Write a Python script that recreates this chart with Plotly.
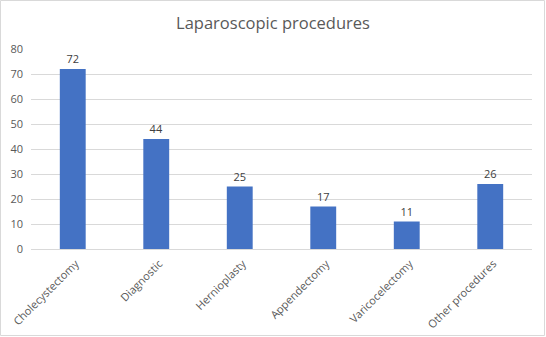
import plotly.graph_objects as go

categories = ["Cholecystectomy", "Diagnostic", "Hernioplasty", "Appendectomy", "Varicocelectomy", "Other procedures"]
values = [72, 44, 25, 17, 11, 26]
y_ticks = [0, 10, 20, 30, 40, 50, 60, 70, 80]
title_text = "Laparoscopic procedures"

W, H = 546, 337
ml, mr, mt, mb = 31, 14, 49, 88
pw, ph = W - ml - mr, H - mt - mb

fig = go.Figure(go.Bar(
    x=categories, y=values,
    marker=dict(color="#4472C4", line=dict(width=0)),
    text=[str(v) for v in values], textposition="outside",
    textfont=dict(color="#404040", size=11, family="Open Sans"),
    cliponaxis=False,
))

fig.update_layout(
    width=W, height=H,
    margin=dict(l=ml, r=mr, t=mt, b=mb, autoexpand=False),
    paper_bgcolor="white", plot_bgcolor="white",
    bargap=0.69,
    showlegend=False,
    title=dict(text=title_text, x=0.5, xanchor="center", y=1 - 23 / H, yanchor="middle",
               font=dict(size=16.5, color="#595959", family="Open Sans")),
    font=dict(family="Open Sans", color="#595959", size=11),
    xaxis=dict(tickangle=-45, showgrid=False, showline=True, linecolor="#D9D9D9", linewidth=1,
               ticks="", tickfont=dict(size=11, color="#595959"), automargin=False,
               ticklabelstandoff=3, ticklabelshift=3),
    yaxis=dict(range=[0, 80], tickvals=y_ticks, showgrid=True, gridcolor="#D9D9D9", gridwidth=1,
               zeroline=False, showline=False, ticks="", tickfont=dict(size=11, color="#595959"),
               ticklabelstandoff=7, automargin=False),
    shapes=[dict(type="rect", xref="paper", yref="paper",
                 x0=-(ml - 0.5) / pw, x1=1 + (mr - 1.5) / pw,
                 y0=-(mb - 1.5) / ph, y1=1 + (mt - 0.5) / ph,
                 line=dict(color="#D9D9D9", width=1), fillcolor="rgba(0,0,0,0)", layer="below")],
)

fig.write_html("out.html")
